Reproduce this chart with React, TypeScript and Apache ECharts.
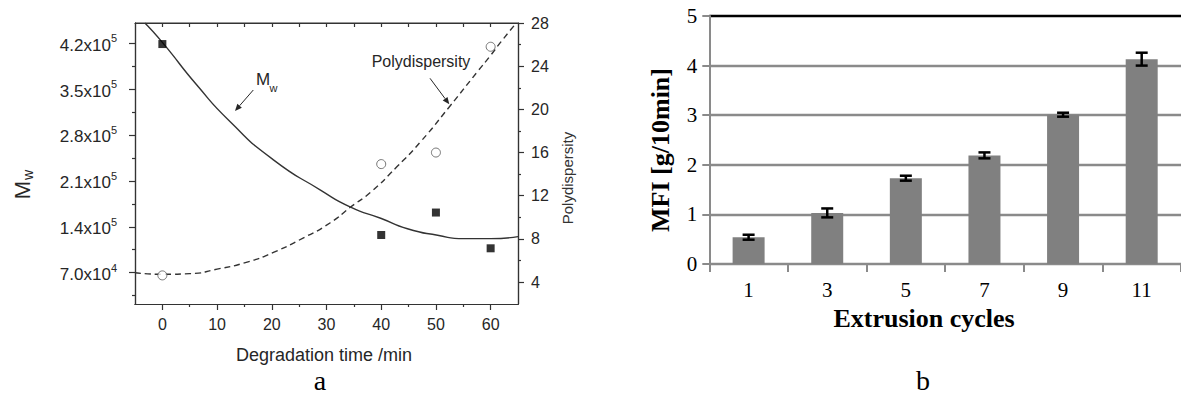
import React, { useEffect, useRef } from 'react';
import * as echarts from 'echarts';

// ---------- Panel a data ----------
const timeTicks = [0, 10, 20, 30, 40, 50, 60];
const timeMinor = [5, 15, 25, 35, 45, 55];
const timeTop = [0, 5, 10, 15, 20, 25, 30, 35, 40, 45, 50, 55, 60];
const mwTicks = [70000, 140000, 210000, 280000, 350000, 420000];
const mwMinor = [35000, 105000, 175000, 245000, 315000, 385000];
const pdTicks = [4, 8, 12, 16, 20, 24, 28];
const pdMinor = [6, 10, 14, 18, 22, 26];

const sampleTimes = [0, 40, 50, 60];
const mwValues = [418500, 127500, 161700, 107200];
const pdValues = [4.62, 14.93, 16.0, 25.8];

const mwFitT = [-3.2, 0, 6.3, 12.4, 20.3, 28.9, 34.4, 39.9, 44.8, 50.3, 55.1, 60, 65];
const mwFitV = [450500, 421000, 356000, 300000, 242000, 196000, 170000, 153000, 137000, 127000, 122000, 122000, 125000];
const pdFitT = [-5, 0, 5, 10, 15.5, 20.3, 25.8, 30.7, 34.4, 38, 42.9, 47.2, 52.4, 57.6, 60, 61.8, 64.6];
const pdFitV = [4.87, 4.72, 4.78, 5.2, 5.85, 6.75, 8.1, 9.5, 10.95, 12.3, 14.7, 17.0, 20.2, 23.5, 25.0, 26.2, 27.95];

// ---------- Panel b data ----------
const cycles = ['1', '3', '5', '7', '9', '11'];
const mfi = [0.54, 1.03, 1.73, 2.19, 3.01, 4.13];
const mfiErr = [0.05, 0.09, 0.05, 0.06, 0.04, 0.13];

const SANS = 'Liberation Sans';
const SERIF = 'Liberation Serif';
const INK = '#262626';

const GRID_A = { left: 135, top: 23, width: 383, height: 281 };
const GRID_B = { left: 709.3, top: 16, width: 479.4, height: 248 };

function arrow(x1: number, y1: number, x2: number, y2: number) {
  const dx = x2 - x1, dy = y2 - y1;
  const len = Math.sqrt(dx * dx + dy * dy);
  const ux = dx / len, uy = dy / len;
  const hl = 7, hw = 3;
  const bx = x2 - ux * hl, by = y2 - uy * hl;
  return [
    { type: 'line', shape: { x1, y1, x2: bx, y2: by }, style: { stroke: INK, lineWidth: 1 } },
    {
      type: 'polygon',
      shape: { points: [[x2, y2], [bx - uy * hw, by + ux * hw], [bx + uy * hw, by - ux * hw]] },
      style: { fill: INK },
    },
  ];
}

function mwLabel(v: number) {
  const exp = Math.floor(Math.log10(v));
  const mant = (v / Math.pow(10, exp)).toFixed(1);
  return `{b|${mant}x10}{s|${exp}}`;
}

export default function App() {
  const ref = useRef<HTMLDivElement>(null);
  useEffect(() => {
    document.body.style.margin = '0';
    const chart = echarts.init(ref.current!, null, { renderer: 'svg' });
    const axisA = { color: '#333', width: 1.2 };
    const blank = () => '';
    const option: any = {
      animation: false,
      grid: [GRID_A, GRID_B],
      xAxis: [
        {
          gridIndex: 0, type: 'value', position: 'bottom', min: -5, max: 65,
          axisLine: { show: true, onZero: false, lineStyle: axisA },
          axisTick: { show: true, customValues: timeTicks, length: 6, lineStyle: axisA },
          axisLabel: { customValues: timeTicks, margin: 12, fontSize: 16, fontFamily: SANS, color: INK },
          splitLine: { show: false },
        },
        {
          gridIndex: 0, type: 'value', position: 'bottom', min: -5, max: 65,
          axisLine: { show: true, onZero: false, lineStyle: axisA },
          axisTick: { show: true, customValues: timeMinor, length: 3, lineStyle: axisA },
          axisLabel: { show: true, customValues: timeMinor, formatter: blank },
          splitLine: { show: false },
        },
        {
          gridIndex: 0, type: 'value', position: 'top', min: -5, max: 65,
          axisLine: { show: true, onZero: false, lineStyle: axisA },
          axisTick: { show: true, customValues: timeTop, inside: true, length: 4, lineStyle: axisA },
          axisLabel: { show: true, customValues: timeTop, formatter: blank },
          splitLine: { show: false },
        },
        {
          gridIndex: 1, type: 'category', data: cycles, boundaryGap: true,
          axisLine: { show: true, lineStyle: { color: '#8a8a8a', width: 2 } },
          axisTick: { show: true, length: 8, lineStyle: { color: '#8a8a8a', width: 2 } },
          axisLabel: { margin: 15, fontSize: 21, fontFamily: SERIF, color: '#000' },
        },
      ],
      yAxis: [
        {
          gridIndex: 0, type: 'value', position: 'left', min: 22300, max: 450600,
          axisLine: { show: true, onZero: false, lineStyle: axisA },
          axisTick: { show: true, customValues: mwTicks, length: 6, lineStyle: axisA },
          axisLabel: {
            customValues: mwTicks, margin: 18, color: INK, fontFamily: SANS,
            formatter: (v: number) => mwLabel(v),
            rich: {
              b: { fontSize: 17, fontFamily: SANS, color: INK, lineHeight: 21, verticalAlign: 'bottom' },
              s: { fontSize: 11, fontFamily: SANS, color: INK, lineHeight: 11, verticalAlign: 'top' },
            },
          },
          splitLine: { show: false },
        },
        {
          gridIndex: 0, type: 'value', position: 'left', min: 22300, max: 450600,
          axisLine: { show: true, onZero: false, lineStyle: axisA },
          axisTick: { show: true, customValues: mwMinor, length: 3, lineStyle: axisA },
          axisLabel: { show: true, customValues: mwMinor, formatter: blank },
          splitLine: { show: false },
        },
        {
          gridIndex: 0, type: 'value', position: 'right', min: 1.97, max: 28,
          axisLine: { show: true, onZero: false, lineStyle: axisA },
          axisTick: { show: true, customValues: pdTicks, length: 6, lineStyle: axisA },
          axisLabel: { customValues: pdTicks, margin: 13, fontSize: 16, fontFamily: SANS, color: INK },
          splitLine: { show: false },
        },
        {
          gridIndex: 0, type: 'value', position: 'right', min: 1.97, max: 28,
          axisLine: { show: true, onZero: false, lineStyle: axisA },
          axisTick: { show: true, customValues: pdMinor, length: 3, lineStyle: axisA },
          axisLabel: { show: true, customValues: pdMinor, formatter: blank },
          splitLine: { show: false },
        },
        {
          gridIndex: 1, type: 'value', min: 0, max: 5, interval: 1,
          axisLine: { show: true, lineStyle: { color: '#8a8a8a', width: 2 } },
          axisTick: { show: true, length: 7, lineStyle: { color: '#8a8a8a', width: 2 } },
          axisLabel: { margin: 12, fontSize: 21, fontFamily: SERIF, color: '#000' },
          splitLine: {
            show: true,
            lineStyle: { color: ['#8a8a8a', '#8a8a8a', '#8a8a8a', '#8a8a8a', '#8a8a8a', '#000'], width: 2.4 },
          },
        },
      ],
      series: [
        {
          type: 'line', xAxisIndex: 0, yAxisIndex: 0, smooth: 0.6, showSymbol: false, symbol: 'none',
          data: mwFitT.map((t, i) => [t, mwFitV[i]]),
          lineStyle: { color: '#333', width: 1.4 }, clip: true, z: 2,
        },
        {
          type: 'line', xAxisIndex: 0, yAxisIndex: 2, smooth: 0.6, showSymbol: false, symbol: 'none',
          data: pdFitT.map((t, i) => [t, pdFitV[i]]),
          lineStyle: { color: '#333', width: 1.4, type: [6, 4] }, clip: true, z: 2,
        },
        {
          type: 'scatter', xAxisIndex: 0, yAxisIndex: 0, symbol: 'rect', symbolSize: 8,
          data: sampleTimes.map((t, i) => [t, mwValues[i]]),
          itemStyle: { color: '#000' }, z: 3,
        },
        {
          type: 'scatter', xAxisIndex: 0, yAxisIndex: 2, symbol: 'circle', symbolSize: 9,
          data: sampleTimes.map((t, i) => [t, pdValues[i]]),
          itemStyle: { color: '#fff', borderColor: '#555', borderWidth: 1 }, z: 3,
        },
        {
          type: 'bar', xAxisIndex: 3, yAxisIndex: 4, barWidth: 32, data: mfi,
          itemStyle: { color: '#808080' }, z: 2,
        },
        {
          type: 'custom', xAxisIndex: 3, yAxisIndex: 4, z: 5,
          data: mfi.map((v, i) => [i, v - mfiErr[i], v + mfiErr[i]]),
          encode: { x: 0, y: [1, 2] },
          renderItem: (params: any, api: any) => {
            const lo = api.coord([api.value(0), api.value(1)]);
            const hi = api.coord([api.value(0), api.value(2)]);
            const hw = 6;
            const st = { stroke: '#000', lineWidth: 2.5 };
            return {
              type: 'group',
              children: [
                { type: 'line', shape: { x1: lo[0], y1: lo[1], x2: hi[0], y2: hi[1] }, style: st },
                { type: 'line', shape: { x1: lo[0] - hw, y1: lo[1], x2: lo[0] + hw, y2: lo[1] }, style: st },
                { type: 'line', shape: { x1: hi[0] - hw, y1: hi[1], x2: hi[0] + hw, y2: hi[1] }, style: st },
              ],
            };
          },
        },
      ],
      graphic: [
        // top frame line of panel a
        {
          type: 'rect', z: 100,
          shape: { x: GRID_A.left, y: GRID_A.top - 0.5, width: GRID_A.width, height: 1.6 },
          style: { fill: '#333' },
        },
        {
          type: 'group', x: 22, y: 184, rotation: Math.PI / 2,
          children: [
            { type: 'text', x: 3, y: 0, style: { text: 'M', fontSize: 22, fontFamily: SANS, fill: INK, align: 'right', verticalAlign: 'middle' } },
            { type: 'text', x: 4, y: 6, style: { text: 'w', fontSize: 14, fontFamily: SANS, fill: INK, align: 'left', verticalAlign: 'middle' } },
          ],
        },
        {
          type: 'text', x: 567, y: 178, rotation: Math.PI / 2,
          style: { text: 'Polydispersity', fontSize: 15, fontFamily: SANS, fill: '#333', align: 'center', verticalAlign: 'middle' },
        },
        {
          type: 'text', x: 324, y: 355,
          style: { text: 'Degradation time /min', fontSize: 18, fontFamily: SANS, fill: INK, align: 'center', verticalAlign: 'middle' },
        },
        {
          type: 'text', x: 320, y: 380,
          style: { text: 'a', fontSize: 28, fontFamily: SERIF, fill: '#000', align: 'center', verticalAlign: 'middle' },
        },
        { type: 'text', x: 256, y: 79, style: { text: 'M', fontSize: 17, fontFamily: SANS, fill: INK, align: 'left', verticalAlign: 'middle' } },
        { type: 'text', x: 269.5, y: 88, style: { text: 'w', fontSize: 11, fontFamily: SANS, fill: INK, align: 'left', verticalAlign: 'middle' } },
        ...arrow(253.3, 90, 235, 111),
        { type: 'text', x: 421, y: 61, style: { text: 'Polydispersity', fontSize: 16, fontFamily: SANS, fill: INK, align: 'center', verticalAlign: 'middle' } },
        ...arrow(430, 78.3, 449.3, 104.3),
        {
          type: 'text', x: 660, y: 150, rotation: Math.PI / 2,
          style: { text: 'MFI [g/10min]', fontSize: 26, fontWeight: 'bold', fontFamily: SERIF, fill: '#000', align: 'center', verticalAlign: 'middle' },
        },
        {
          type: 'text', x: 924, y: 318,
          style: { text: 'Extrusion cycles', fontSize: 26, fontWeight: 'bold', fontFamily: SERIF, fill: '#000', align: 'center', verticalAlign: 'middle' },
        },
        {
          type: 'text', x: 923, y: 380,
          style: { text: 'b', fontSize: 28, fontFamily: SERIF, fill: '#000', align: 'center', verticalAlign: 'middle' },
        },
      ],
    };
    chart.setOption(option);
    return () => chart.dispose();
  }, []);
  return <div ref={ref} style={{ width: 1181, height: 396 }} />;
}
